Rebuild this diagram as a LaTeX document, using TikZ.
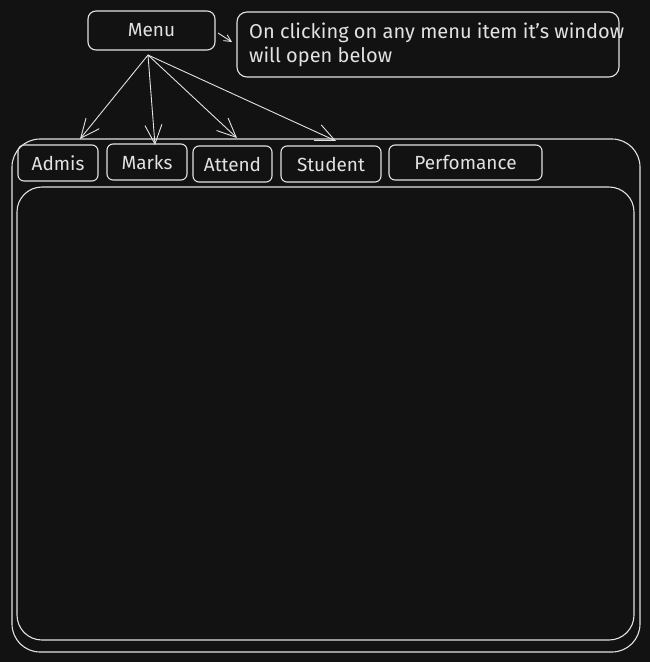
\documentclass[tikz,border=0pt]{standalone}
\usepackage{fontspec}
\setmainfont{Fira Sans}
\usetikzlibrary{arrows.meta,calc}
\definecolor{canvas}{HTML}{121212}
\definecolor{ink}{HTML}{E2E2E2}
\tikzset{
  sketch/.style={draw=ink, line width=1.1pt},
  box/.style={sketch, rectangle, rounded corners=#1, inner sep=0pt, text=ink,
    font=\fontsize{19}{24}\selectfont},
  box/.default=7pt,
  tab/.style={box=6pt},
  label/.style={text=ink, inner sep=0pt, font=\fontsize{20}{24}\selectfont},
  link/.style={draw=ink, line width=0.9pt, -{Straight Barb[length=19pt, width=17pt, line width=0.9pt]}},
}
\begin{document}
\begin{tikzpicture}[x=1pt, y=-1pt]
  % canvas
  \fill[canvas] (0,0) rectangle (650,662);
  \useasboundingbox (0,0) rectangle (650,662);

  % menu button and its note
  \node[box=8pt, minimum width=127pt, minimum height=39pt] (menu) at (151.5,30.5) {Menu};
  \node[box=10pt, minimum width=382pt, minimum height=65pt] (note) at (428,44.5) {};
  \node[label, anchor=west, align=left] (notetext) at (249,44.5)
    {On clicking on any menu item it's window\\will open below};

  % application window and content panel
  \node[box=28pt, minimum width=628pt, minimum height=513pt] (window) at (326,395.5) {};
  \node[box=25pt, minimum width=617pt, minimum height=453pt] (panel) at (325.5,413.5) {};

  % tabs
  \node[tab, minimum width=80pt,  minimum height=36pt] (admis)  at (58,163)   {Admis};
  \node[tab, minimum width=80pt,  minimum height=36pt] (marks)  at (147,162)  {Marks};
  \node[tab, minimum width=79pt,  minimum height=36pt] (attend) at (232.5,164) {Attend};
  \node[tab, minimum width=100pt, minimum height=36pt] (student) at (331,164) {Student};
  \node[tab, minimum width=153pt, minimum height=35pt] (perf)   at (465.5,162.5) {Perfomance};

  % connector end points
  \coordinate (fan) at (148,55);
  \coordinate (toadmis) at (80,139);
  \coordinate (tomarks) at (155,145);
  \coordinate (toattend) at (237,138);
  \coordinate (tostudent) at (336,141);
  \coordinate (menuout) at (218,33);
  \coordinate (tonote) at (232,42);

  % connectors
  \draw[link] (fan) -- (toadmis);
  \draw[link] (fan) -- (tomarks);
  \draw[link] (fan) -- (toattend);
  \draw[link] (fan) -- (tostudent);
  \draw[link, -{Straight Barb[length=7pt, width=7pt, line width=0.9pt]}] (menuout) -- (tonote);
\end{tikzpicture}
\end{document}
